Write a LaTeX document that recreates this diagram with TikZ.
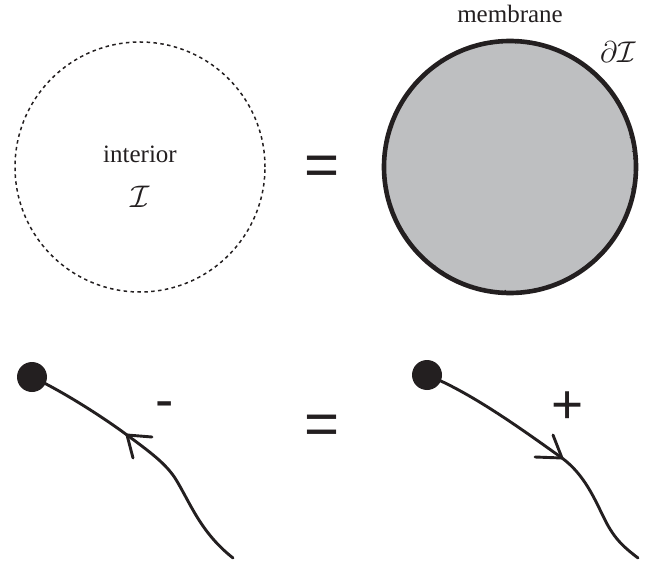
\RequirePackage{fix-cm}
\documentclass[tikz,border=0pt]{standalone}
\usepackage{fontspec}
\usetikzlibrary{decorations.pathmorphing}
\setmainfont{Liberation Serif}
\newfontfamily\symfont{Liberation Sans}
\definecolor{ink}{HTML}{231F20}
\definecolor{cellgrey}{HTML}{BEBFC1}
\begin{document}
\begin{tikzpicture}[x=1pt,y=-1pt,
  lbl/.style={inner sep=0pt,font=\fontsize{25}{30}\selectfont,text=ink},
  bigsym/.style={inner sep=0pt,font=\symfont\fontsize{60}{60}\selectfont,text=ink},
  signsym/.style={inner sep=0pt,font=\symfont\fontsize{55}{55}\selectfont,text=ink},
  pathline/.style={draw=ink,line width=2.9pt,line cap=round},
  dotnode/.style={circle,fill=ink,minimum size=30pt,inner sep=0pt}]
\useasboundingbox (0,0) rectangle (658,561);
% top left: interior
\node[circle,draw=ink,line width=1.5pt,dash pattern=on 3.5pt off 3.4pt,minimum size=250pt,inner sep=0pt] (interior) at (140,167) {};
\node[lbl,anchor=base] (intlbl) at (140,163) {interior};
\node[lbl,anchor=base] (intsym) at (140,208) {\scalebox{1.25}{$\mathcal{I}$}};
% equals top
\node[bigsym] (eqtop) at (322,171) {=};
% top right: membrane
\node[circle,draw=ink,fill=cellgrey,line width=4.6pt,minimum size=252pt,inner sep=0pt] (cell) at (510,167) {};
\draw[draw=ink,line width=0.9pt,decorate,decoration={random steps,segment length=1.5pt,amplitude=1.3pt}] (cell.center) circle[radius=125.5pt];
\node[lbl,anchor=base] (memlbl) at (510,23) {membrane};
\node[lbl,anchor=base] (bdry) at (618,63) {\scalebox{1.2}{$\partial\mathcal{I}$}};
% bottom left
\node[dotnode] (dotL) at (32,377) {};
\coordinate (tipL) at (127,435);
\coordinate (endL) at (233,558);
\draw[pathline] (dotL.center) .. controls (60,390) and (100,415) .. (tipL)
  .. controls (150,452) and (165,463) .. (175,478)
  .. controls (190,502) and (200,532) .. (endL);
\draw[pathline] (tipL) -- ++(25,2);
\draw[pathline] (tipL) -- ++(6,23);
\node[signsym] (minus) at (165,410) {-};
% equals bottom
\node[bigsym] (eqbot) at (322,430) {=};
% bottom right
\node[dotnode] (dotR) at (427,375) {};
\coordinate (tipR) at (562,458);
\coordinate (endR) at (638,558);
\draw[pathline] (dotR.center) .. controls (470,392) and (520,428) .. (tipR)
  .. controls (585,475) and (595,500) .. (605,520)
  .. controls (615,540) and (625,548) .. (endR);
\draw[pathline] (tipR) -- ++(-27,-1);
\draw[pathline] (tipR) -- ++(-9,-23);
\node[signsym] (plus) at (568,408) {+};
\end{tikzpicture}
\end{document}
